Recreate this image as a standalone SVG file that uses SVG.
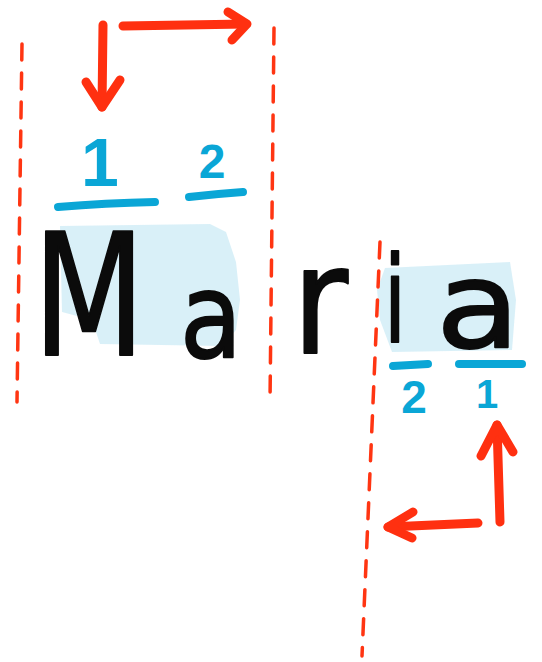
<svg xmlns="http://www.w3.org/2000/svg" width="542" height="662" viewBox="0 0 542 662">
<style>
.dash{fill:none;stroke:#ff3512;stroke-width:3.5;stroke-dasharray:16 13;stroke-linecap:round}
.arr{fill:none;stroke:#ff3010;stroke-width:9;stroke-linecap:round;stroke-linejoin:round}
.ul{fill:none;stroke:#0aa6d6;stroke-width:8;stroke-linecap:round}
.num{font-family:"Liberation Sans",sans-serif;font-weight:bold;fill:#0aa6d6;text-anchor:middle}
.let{font-family:"DejaVu Sans","Liberation Sans",sans-serif;fill:#0b0b0b;stroke:#0b0b0b;stroke-width:2;stroke-linejoin:round}
.wash{fill:#d2edf7;opacity:0.85}
</style>
<rect width="542" height="662" fill="#fff"/>
<g id="washes">
<path class="wash" d="M60,226 L210,224 L226,232 L236,262 L240,300 L236,330 L222,346 L100,344 L92,320 L62,312 Z"/>
<path class="wash" d="M385,268 L510,262 L516,300 L512,350 L392,352 L380,320 L377,290 Z"/>
</g>
<g id="guides">
<path class="dash" d="M22,44 L17,402"/>
<path class="dash" d="M274,28 L270,402"/>
<path class="dash" d="M380,242 L362,656"/>
</g>
<g id="word">
<text class="let" x="33" y="355" font-size="170" textLength="112" lengthAdjust="spacingAndGlyphs">M</text>
<text class="let" x="180" y="357" font-size="118" textLength="62" lengthAdjust="spacingAndGlyphs">a</text>
<text class="let" x="292" y="353" font-size="150" textLength="56" lengthAdjust="spacingAndGlyphs">r</text>
<text class="let" x="384" y="342" font-size="120" textLength="22" lengthAdjust="spacingAndGlyphs">i</text>
<text class="let" x="436" y="347" font-size="120" textLength="84" lengthAdjust="spacingAndGlyphs">a</text>
</g>
<g id="labels-top">
<path class="ul" d="M58,207 Q105,203 155,202"/>
<path class="ul" d="M189,197 Q215,194 243,192"/>
<text class="num" x="100" y="186" font-size="68">1</text>
<text class="num" x="212" y="178" font-size="48">2</text>
</g>
<g id="labels-bottom">
<path class="ul" d="M393,366 L428,364"/>
<path class="ul" d="M459,364 L522,364"/>
<text class="num" x="414" y="413" font-size="46">2</text>
<text class="num" x="487" y="408" font-size="40">1</text>
</g>
<g id="connectors">
<path class="arr" d="M103,25 L102,107"/>
<path class="arr" d="M86,82 L102,107 L120,80"/>
<path class="arr" d="M123,26 L246,24"/>
<path class="arr" d="M228,12 L247,24 L232,40"/>
<path class="arr" d="M500,522 L497,425"/>
<path class="arr" d="M481,456 L497,425 L513,452"/>
<path class="arr" d="M478,523 L388,527"/>
<path class="arr" d="M413,512 L388,527 L412,538"/>
</g>
</svg>
